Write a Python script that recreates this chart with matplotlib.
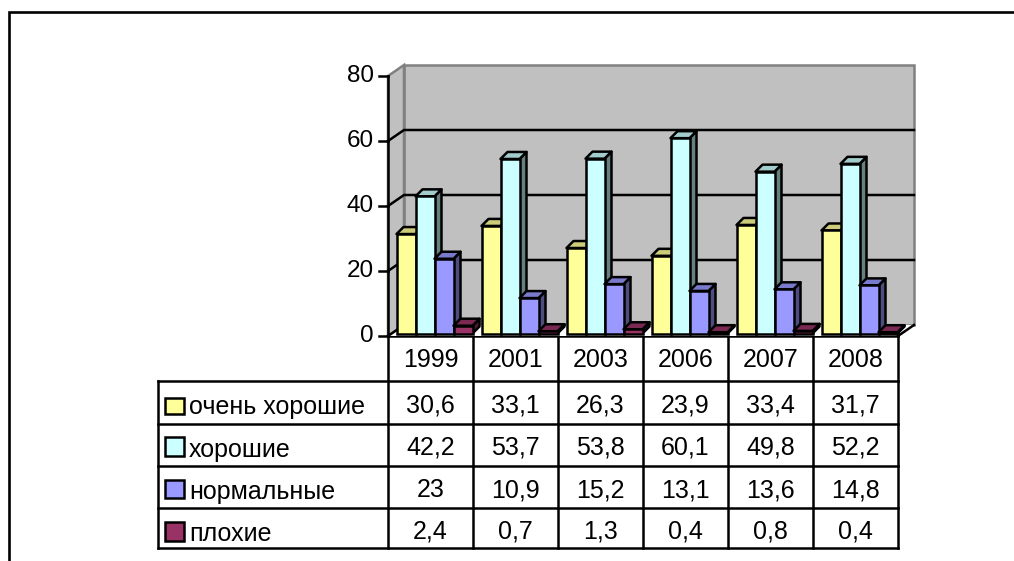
# -*- coding: utf-8 -*-
import matplotlib
matplotlib.use("Agg")
import matplotlib.pyplot as plt
from matplotlib.patches import Polygon, Rectangle

plt.rcParams["font.family"] = ["Liberation Sans", "DejaVu Sans"]

years = ["1999", "2001", "2003", "2006", "2007", "2008"]
series_names = ["очень хорошие", "хорошие", "нормальные", "плохие"]
very_good = [30.6, 33.1, 26.3, 23.9, 33.4, 31.7]
good = [42.2, 53.7, 53.8, 60.1, 49.8, 52.2]
normal = [23, 10.9, 15.2, 13.1, 13.6, 14.8]
bad = [2.4, 0.7, 1.3, 0.4, 0.8, 0.4]
y_ticks = [0, 20, 40, 60, 80]

all_series = [very_good, good, normal, bad]
face_colors = ["#FFFF99", "#CCFFFF", "#9999FF", "#993366"]
top_colors = ["#CCCC7A", "#A3CCCC", "#7A7ACC", "#7A2952"]
side_colors = ["#808066", "#668080", "#4D4D80", "#4D1A33"]

W, H = 1014, 561
X0, X1, Y0, Y80 = 388, 898, 336, 76  # передняя плоскость, пиксели
DEPTH_X, DEPTH_Y = 16, 11  # глубина стенки
PX = (X1 - X0) / len(years)
PY = (Y0 - Y80) / 80
LW = 1.8
FS = 18

fig = plt.figure(figsize=(W / 100, H / 100), dpi=100, facecolor="white")

# слой для рамки и таблицы, в пикселях
bg = fig.add_axes([0, 0, 1, 1])
bg.set_xlim(0, W)
bg.set_ylim(H, 0)
bg.axis("off")

# значения: x в категориях, y в единицах шкалы
ax = fig.add_axes([X0 / W, (H - Y0) / H, (X1 + 20 - X0) / W, (Y0 - Y80 + 20) / H])
ax.set_xlim(0, (X1 + 20 - X0) / PX)
ax.set_ylim(0, (Y0 - Y80 + 20) / PY)
ax.axis("off")
ax.patch.set_alpha(0)

dx = DEPTH_X / PX
dy = DEPTH_Y / PY
n = len(years)
top = y_ticks[-1]

# стенки
ax.add_patch(Polygon([(dx, dy), (n + dx, dy), (n + dx, top + dy), (dx, top + dy)],
                     fc="#C0C0C0", ec="#808080", lw=LW, clip_on=False, zorder=1))
ax.add_patch(Polygon([(0, 0), (dx, dy), (dx, top + dy), (0, top)],
                     fc="#C0C0C0", ec="#808080", lw=LW, clip_on=False, zorder=1))
ax.add_patch(Polygon([(0, 0), (n, 0), (n + dx, dy), (dx, dy)],
                     fc="white", ec="none", clip_on=False, zorder=1))
for a, b in [((0, 0), (dx, dy)), ((n, 0), (n + dx, dy))]:
    ax.plot([a[0], b[0]], [a[1], b[1]], color="black", lw=LW, clip_on=False, zorder=2)

# сетка
for v in y_ticks[1:-1]:
    ax.plot([0, dx, n + dx], [v, v + dy, v + dy], color="black", lw=LW,
            clip_on=False, zorder=2, solid_joinstyle="miter")

# столбцы
bar_w = 19 / PX
gap = 0.1
depth_x = 7 / PX
depth_y = 7 / PY
base = 2.5 / PY
for i in range(n):
    for s, values in enumerate(all_series):
        v = values[i]
        x = i + gap + s * bar_w
        z = 3 + i + s * 0.1
        ax.add_patch(Polygon([(x + bar_w, base), (x + bar_w + depth_x, base + depth_y),
                              (x + bar_w + depth_x, base + v + depth_y), (x + bar_w, base + v)],
                             fc=side_colors[s], ec="black", lw=LW, clip_on=False,
                             joinstyle="round", zorder=z))
        ax.add_patch(Polygon([(x, base + v), (x + bar_w, base + v),
                              (x + bar_w + depth_x, base + v + depth_y), (x + depth_x, base + v + depth_y)],
                             fc=top_colors[s], ec="black", lw=LW, clip_on=False,
                             joinstyle="round", zorder=z))
        ax.add_patch(Rectangle((x, base), bar_w, v, fc=face_colors[s], ec="black",
                               lw=LW, clip_on=False, zorder=z))

# ось Y
ax.plot([0, 0], [0, top], color="black", lw=LW, clip_on=False, zorder=30)
for v in y_ticks:
    ax.plot([-9 / PX, 0], [v, v], color="black", lw=LW, clip_on=False, zorder=30)
    ax.text(-14 / PX, v, str(v), ha="right", va="center", fontsize=17.5, color="black")

# внешняя рамка
bg.plot([9, 9, W], [H, 12, 12], color="black", lw=1.9, solid_joinstyle="miter")

# таблица данных
row_y = [336, 380.5, 424, 466, 508, 548]
col_x = [X0 + PX * i for i in range(n + 1)]
value_base = [367, 412, 454, 497, 538]
label_base = [414, 457, 499, 541]
swatch_y = [(398, 414), (437, 456), (480, 498), (522, 541)]
TABLE_L = 158
for i, y in enumerate(row_y):
    left = X0 if i == 0 else TABLE_L
    bg.plot([left, X1], [y, y], color="black", lw=LW, solid_capstyle="projecting")
for x in col_x:
    bg.plot([x, x], [row_y[0], row_y[-1]], color="black", lw=LW, solid_capstyle="projecting")
bg.plot([TABLE_L, TABLE_L], [row_y[1], row_y[-1]], color="black", lw=LW, solid_capstyle="projecting")

for i, year in enumerate(years):
    bg.text((col_x[i] + col_x[i + 1]) / 2, value_base[0], year,
            ha="center", va="baseline", fontsize=FS)

for s, name in enumerate(series_names):
    ya, yb = swatch_y[s]
    bg.add_patch(Rectangle((165, ya), 19, yb - ya, fc=face_colors[s], ec="black", lw=LW))
    bg.text(189, label_base[s], name, ha="left", va="baseline", fontsize=FS)
    for i in range(n):
        bg.text((col_x[i] + col_x[i + 1]) / 2, value_base[s + 1],
                f"{all_series[s][i]:g}".replace(".", ","),
                ha="center", va="baseline", fontsize=FS)

fig.savefig("out.png", dpi=100)
